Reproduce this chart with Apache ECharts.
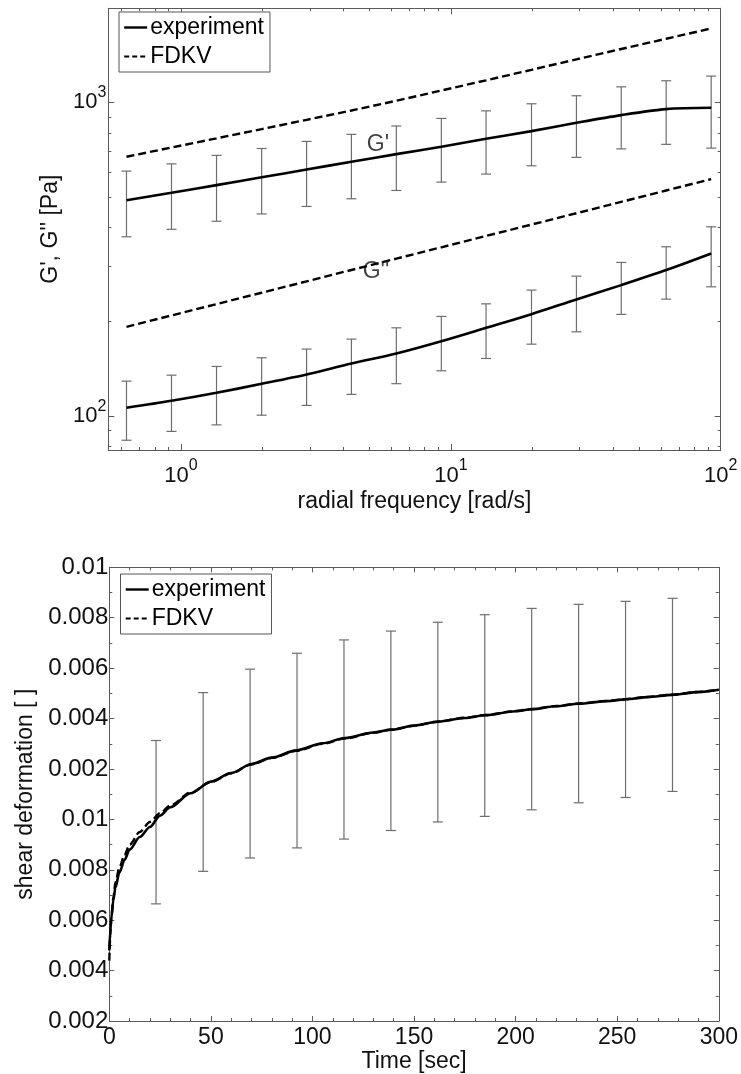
<!DOCTYPE html>
<html><head><meta charset="utf-8">
<script src="https://cdn.jsdelivr.net/npm/echarts@6/dist/echarts.min.js"></script>
<style>html,body{margin:0;padding:0;background:#fff}#c{width:741px;height:1074px}</style>
</head><body><div id="c"></div>
<script>
// ---------- top chart data (radial frequency sweep) ----------
const freq = [0.628, 0.922, 1.354, 1.99, 2.92, 4.28, 6.28, 9.22, 13.5, 19.9, 29.2, 42.8, 62.8, 92.2];
const gpExp   = [488, 515, 545, 577, 611, 647, 684, 722, 766, 810, 861, 911, 952, 961];
const gpLow   = [373, 394, 418, 441, 466, 493, 524, 557, 591, 628, 668, 711, 735, 715];
const gpHigh  = [604, 637, 678, 713, 751, 791, 841, 889, 940, 990, 1050, 1121, 1172, 1213];
const gpFdkv  = [671, 718, 768, 822, 880, 942, 1012, 1091, 1176, 1270, 1372, 1480, 1595, 1721];
const gppExp  = [106.3, 111.9, 118.7, 126.8, 135.8, 147.2, 158.5, 173.4, 191.2, 211.4, 235.5, 261.6, 292.1, 330];
const gppLow  = [83.8, 89.4, 93.8, 100.7, 108.2, 117.3, 126.9, 139.5, 152.7, 169.6, 185.7, 211, 236, 258.4];
const gppHigh = [129.3, 135.1, 144, 153.5, 163.6, 176, 191.2, 207.9, 228, 252.2, 279.4, 309, 346.6, 401.3];
const gppFdkv = [192.6, 209.4, 227.6, 247.4, 268.9, 292.3, 317.7, 345.3, 375.3, 407.9, 443.4, 481.9, 523.8, 569.6];
const annText  = ["G'", "G''"];
const annFreq  = [5.37, 5.28];
const annValue = [731, 288];
const xRange1 = [0.5377, 100];
const yRange1 = [78, 1995];
const xMajor1 = [1, 10, 100];
const xExp1   = ['0', '1', '2'];
const xMinor1 = [0.6, 0.7, 0.8, 0.9, 2, 3, 4, 5, 6, 7, 8, 9, 20, 30, 40, 50, 60, 70, 80, 90];
const yMajor1 = [100, 1000];
const yExp1   = ['2', '3'];
const yMinor1 = [80, 90, 200, 300, 400, 500, 600, 700, 800, 900];

// ---------- bottom chart data (creep) ----------
const time = [0, 0.5, 1, 2, 3, 5, 7.5, 10, 15, 20, 25, 30, 40, 50, 60, 70, 80, 92, 105, 116, 130, 139, 150, 162, 175, 185, 200, 208, 220, 231, 245, 254, 265, 277, 290, 300];
const strainExp = [0.0048, 0.0056, 0.0061, 0.0068, 0.0073, 0.0079, 0.0084, 0.0088, 0.0093, 0.0097, 0.01015, 0.01048, 0.01104, 0.0115, 0.01184, 0.0122, 0.01245, 0.01274, 0.01302, 0.01323, 0.01345, 0.01356, 0.01372, 0.01388, 0.01402, 0.01413, 0.01429, 0.01437, 0.01449, 0.01459, 0.01469, 0.01476, 0.01485, 0.01494, 0.01505, 0.01514];
const strainFdkv = [0.0044, 0.0054, 0.0061, 0.0069, 0.0075, 0.0081, 0.0086, 0.0090, 0.0095, 0.0099, 0.01025, 0.01055, 0.01106, 0.01148, 0.01183, 0.01218, 0.01244, 0.01272, 0.0130, 0.01321, 0.01344, 0.01356, 0.01372, 0.01388, 0.01403, 0.01414, 0.0143, 0.01438, 0.0145, 0.0146, 0.0147, 0.01477, 0.01486, 0.01495, 0.01506, 0.01515];
const barTime = [23, 46.2, 69.3, 92.4, 115.5, 138.6, 161.7, 184.8, 207.9, 231, 254.1, 277.2];
const barLow  = [0.00665, 0.00794, 0.00847, 0.00887, 0.00922, 0.00956, 0.0099, 0.01012, 0.01038, 0.01066, 0.01087, 0.01111];
const barHigh = [0.01313, 0.01503, 0.01596, 0.01659, 0.01712, 0.01747, 0.01782, 0.01812, 0.01837, 0.01853, 0.01865, 0.01877];
const yTickLabels2 = ['0.002', '0.004', '0.006', '0.008', '0.01', '0.002', '0.004', '0.006', '0.008', '0.01'];
const yRange2 = [0.002, 0.02];
const yStep2 = 0.002;
const xRange2 = [0, 300];
const xStep2 = 50;

// ---------- styling ----------
const FONT = "'Liberation Sans', Arial, Helvetica, sans-serif";
const AX = '#5a5a5a';
const BAR = '#6e6e6e';
const L = Math.log10;

const supRich = {
  b: { fontSize: 22, lineHeight: 36, fontFamily: FONT, color: '#111', verticalAlign: 'middle' },
  s: { fontSize: 16, lineHeight: 10, fontFamily: FONT, color: '#111', verticalAlign: 'top' }
};
function expLabel(majors, exps) {
  return function (v) {
    const i = majors.findIndex(t => Math.abs(L(t) - v) < 1e-6);
    return i < 0 ? '' : '{b|10}{s|' + exps[i] + '}';
  };
}

function logAxis(grid, pos, range, ticks, len, labelOpt, nameOpt) {
  const ax = {
    gridIndex: grid, type: 'value', position: pos,
    min: L(range[0]), max: L(range[1]),
    axisLine: { show: len >= 5, onZero: false, lineStyle: { color: AX, width: 1 } },
    axisTick: { show: true, inside: true, length: len, customValues: ticks.map(L), lineStyle: { color: AX, width: 1 } },
    axisLabel: { show: false },
    splitLine: { show: false }
  };
  if (labelOpt) ax.axisLabel = labelOpt;
  if (nameOpt) Object.assign(ax, nameOpt);
  return ax;
}

function errRender(params, api) {
  const x = api.value(0), lo = api.value(1), hi = api.value(2);
  const a = api.coord([x, hi]), b = api.coord([x, lo]);
  const w = 5;
  const st = { stroke: BAR, lineWidth: 1.2 };
  return {
    type: 'group', children: [
      { type: 'line', shape: { x1: a[0], y1: a[1], x2: b[0], y2: b[1] }, style: st },
      { type: 'line', shape: { x1: a[0] - w, y1: a[1], x2: a[0] + w, y2: a[1] }, style: st },
      { type: 'line', shape: { x1: b[0] - w, y1: b[1], x2: b[0] + w, y2: b[1] }, style: st }
    ]
  };
}

const nameStyle = { fontSize: 23, fontFamily: FONT, color: '#111' };

const xAxes = [
  logAxis(0, 'bottom', xRange1, xMajor1, 6,
    { show: true, customValues: xMajor1.map(L), margin: 8, formatter: expLabel(xMajor1, xExp1), rich: supRich },
    { name: 'radial frequency [rad/s]', nameLocation: 'middle', nameGap: 40, nameTextStyle: nameStyle }),
  logAxis(0, 'bottom', xRange1, xMinor1, 3),
  logAxis(0, 'top', xRange1, xMajor1, 6),
  logAxis(0, 'top', xRange1, xMinor1, 3),
  {
    gridIndex: 1, type: 'value', position: 'bottom', min: xRange2[0], max: xRange2[1], interval: xStep2,
    axisLine: { show: true, onZero: false, lineStyle: { color: AX } },
    axisTick: { show: true, inside: true, length: 5, lineStyle: { color: AX } },
    minorTick: { show: true, splitNumber: 5, length: 3, lineStyle: { color: AX } },
    axisLabel: { show: true, margin: 5, fontSize: 23, fontFamily: FONT, color: '#111' },
    splitLine: { show: false },
    name: 'Time [sec]', nameLocation: 'middle', nameGap: 26, nameTextStyle: nameStyle
  },
  {
    gridIndex: 1, type: 'value', position: 'top', min: xRange2[0], max: xRange2[1], interval: xStep2,
    axisLine: { show: true, onZero: false, lineStyle: { color: AX } },
    axisTick: { show: true, inside: true, length: 5, lineStyle: { color: AX } },
    minorTick: { show: true, splitNumber: 5, length: 3, lineStyle: { color: AX } },
    axisLabel: { show: false }, splitLine: { show: false }
  }
];

const yAxes = [
  logAxis(0, 'left', yRange1, yMajor1, 6,
    { show: true, customValues: yMajor1.map(L), margin: 2, formatter: expLabel(yMajor1, yExp1), rich: supRich },
    { name: "G', G'' [Pa]", nameLocation: 'middle', nameRotate: 90, nameGap: 40, nameTextStyle: nameStyle }),
  logAxis(0, 'left', yRange1, yMinor1, 3),
  logAxis(0, 'right', yRange1, yMajor1, 6),
  logAxis(0, 'right', yRange1, yMinor1, 3),
  {
    gridIndex: 1, type: 'value', position: 'left', min: yRange2[0], max: yRange2[1], interval: yStep2,
    axisLine: { show: true, onZero: false, lineStyle: { color: AX } },
    axisTick: { show: true, inside: true, length: 5, lineStyle: { color: AX } },
    minorTick: { show: true, splitNumber: 2, length: 3, lineStyle: { color: AX } },
    axisLabel: {
      show: true, margin: 1, fontSize: 24, fontFamily: FONT, color: '#111',
      formatter: v => yTickLabels2[Math.round((v - yRange2[0]) / yStep2)] || ''
    },
    splitLine: { show: false },
    name: 'shear deformation [ ]', nameLocation: 'middle', nameRotate: 90, nameGap: 68, nameTextStyle: nameStyle
  },
  {
    gridIndex: 1, type: 'value', position: 'right', min: yRange2[0], max: yRange2[1], interval: yStep2,
    axisLine: { show: true, onZero: false, lineStyle: { color: AX } },
    axisTick: { show: true, inside: true, length: 5, lineStyle: { color: AX } },
    minorTick: { show: true, splitNumber: 2, length: 3, lineStyle: { color: AX } },
    axisLabel: { show: false }, splitLine: { show: false }
  }
];

const logPairs = (xs, ys) => xs.map((x, i) => [L(x), L(ys[i])]);
const logBars = (xs, lo, hi) => xs.map((x, i) => [L(x), L(lo[i]), L(hi[i])]);
const pairs = (xs, ys) => xs.map((x, i) => [x, ys[i]]);

const solid = { color: '#000', width: 2.6, type: 'solid' };
const dashed = { color: '#000', width: 2.4, type: [8, 4] };

const legendBase = {
  orient: 'vertical', itemWidth: 23, itemHeight: 14, itemGap: 6,
  backgroundColor: '#fff', borderColor: '#555', borderWidth: 1, padding: [4, 6, 4, 4],
  itemStyle: { opacity: 0 },
  textStyle: { fontSize: 23, fontFamily: FONT, color: '#000', padding: [0, 0, 0, -2] },
  data: [
    { name: 'experiment', itemStyle: { opacity: 0 }, lineStyle: { width: 2.4, type: 'solid' } },
    { name: 'FDKV', itemStyle: { opacity: 0 }, lineStyle: { width: 2.2, type: [5, 3] } }
  ],
  selectedMode: false
};

const option = {
  animation: false,
  backgroundColor: '#fff',
  grid: [
    { left: 108.3, top: 8.3, width: 612.4, height: 441.7 },
    { left: 109.3, top: 567.3, width: 611.4, height: 454.4 }
  ],
  legend: [
    Object.assign({ left: 119, top: 12 }, legendBase),
    Object.assign({ left: 120.5, top: 574 }, legendBase)
  ],
  xAxis: xAxes,
  yAxis: yAxes,
  series: [
    { type: 'custom', name: 'errG1', xAxisIndex: 0, yAxisIndex: 0, renderItem: errRender, encode: { x: 0, y: [1, 2] }, data: logBars(freq, gpLow, gpHigh), z: 1 },
    { type: 'custom', name: 'errG2', xAxisIndex: 0, yAxisIndex: 0, renderItem: errRender, encode: { x: 0, y: [1, 2] }, data: logBars(freq, gppLow, gppHigh), z: 1 },
    { type: 'line', name: 'experiment', xAxisIndex: 0, yAxisIndex: 0, symbol: 'none', smooth: 0.3, lineStyle: solid, itemStyle: { color: '#000' }, data: logPairs(freq, gpExp), z: 3 },
    { type: 'line', name: 'experiment', xAxisIndex: 0, yAxisIndex: 0, symbol: 'none', smooth: 0.3, lineStyle: solid, itemStyle: { color: '#000' }, data: logPairs(freq, gppExp), z: 3 },
    { type: 'line', name: 'FDKV', xAxisIndex: 0, yAxisIndex: 0, symbol: 'none', lineStyle: dashed, itemStyle: { color: '#000' }, data: logPairs(freq, gpFdkv), z: 3 },
    { type: 'line', name: 'FDKV', xAxisIndex: 0, yAxisIndex: 0, symbol: 'none', lineStyle: dashed, itemStyle: { color: '#000' }, data: logPairs(freq, gppFdkv), z: 3 },
    {
      type: 'scatter', name: 'ann', xAxisIndex: 0, yAxisIndex: 0, symbolSize: 1,
      itemStyle: { color: 'rgba(0,0,0,0)' },
      label: { show: true, position: 'inside', formatter: p => p.data[2], fontSize: 23, fontFamily: FONT, color: '#111' },
      data: annText.map((t, i) => [L(annFreq[i]), L(annValue[i]), t]), z: 4
    },
    { type: 'custom', name: 'errCreep', xAxisIndex: 4, yAxisIndex: 4, renderItem: errRender, encode: { x: 0, y: [1, 2] }, data: barTime.map((t, i) => [t, barLow[i], barHigh[i]]), z: 1 },
    { type: 'line', name: 'experiment', xAxisIndex: 4, yAxisIndex: 4, symbol: 'none', smooth: 0.3, smoothMonotone: 'x', lineStyle: solid, itemStyle: { color: '#000' }, data: pairs(time, strainExp), z: 3 },
    { type: 'line', name: 'FDKV', xAxisIndex: 4, yAxisIndex: 4, symbol: 'none', smooth: 0.3, smoothMonotone: 'x', lineStyle: dashed, itemStyle: { color: '#000' }, data: pairs(time, strainFdkv), z: 3 }
  ]
};

const chart = echarts.init(document.getElementById('c'), null, { renderer: 'canvas' });
chart.setOption(option);
</script>
</body></html>
